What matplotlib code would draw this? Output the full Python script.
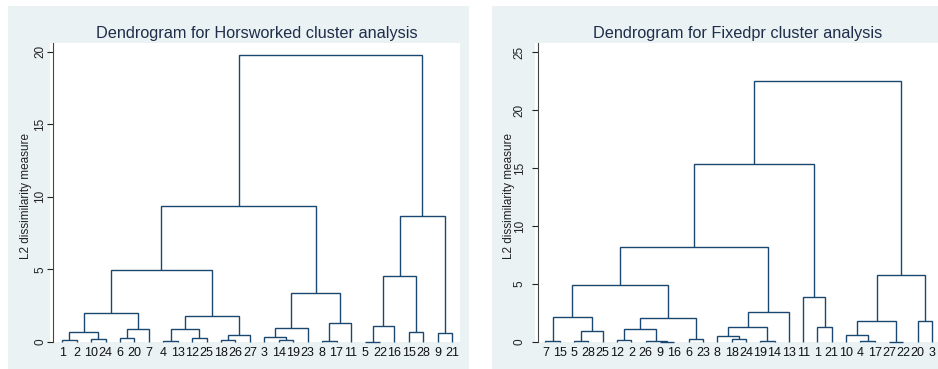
import matplotlib
matplotlib.use("Agg")
import matplotlib.pyplot as plt
from matplotlib.patches import Rectangle

plt.rcParams['font.family'] = ['Liberation Sans', 'DejaVu Sans']

# --- data: leaf order and merges (a, b, height); "mN" = earlier merge N ---
hw_leaves = [1, 2, 10, 24, 6, 20, 7, 4, 13, 12, 25, 18, 26, 27,
             3, 14, 19, 23, 8, 17, 11, 5, 22, 16, 15, 28, 9, 21]
hw_merges = [
    (1, 2, 0.14), (10, 24, 0.19), ("m0", "m1", 0.67),
    (6, 20, 0.26), ("m3", 7, 0.92), ("m2", "m4", 2.02),
    (4, 13, 0.09), (12, 25, 0.25), ("m6", "m7", 0.92),
    (18, 26, 0.14), ("m9", 27, 0.47), ("m8", "m10", 1.82),
    ("m5", "m11", 4.95),
    (14, 19, 0.14), (3, "m13", 0.32), ("m14", 23, 0.97),
    (8, 17, 0.09), ("m16", 11, 1.29), ("m15", "m17", 3.38),
    ("m12", "m18", 9.35),
    (5, 22, 0.03), ("m20", 16, 1.12), (15, 28, 0.71), ("m21", "m22", 4.57),
    (9, 21, 0.64), ("m23", "m24", 8.65),
    ("m19", "m25", 19.8),
]

fp_leaves = [7, 15, 5, 28, 25, 12, 2, 26, 9, 16, 6, 23, 8, 18,
             24, 19, 14, 13, 11, 1, 21, 10, 4, 17, 27, 22, 20, 3]
fp_merges = [
    (7, 15, 0.05), (5, 28, 0.10), ("m1", 25, 0.97), ("m0", "m2", 2.2),
    (12, 2, 0.17), (9, 16, 0.04), (26, "m5", 0.12), ("m4", "m6", 1.09),
    (6, 23, 0.29), ("m7", "m8", 2.1), ("m3", "m9", 4.89),
    (18, 24, 0.28), (8, "m11", 0.54), (19, 14, 0.11), ("m12", "m13", 1.32),
    ("m14", 13, 2.56), ("m10", "m15", 8.2),
    (1, 21, 1.32), (11, "m17", 3.85), ("m16", "m18", 15.35),
    (4, 17, 0.11), (10, "m20", 0.6), (27, 22, 0.03), ("m21", "m22", 1.84),
    (20, 3, 1.78), ("m23", "m24", 5.75),
    ("m19", "m25", 22.5),
]

BG = '#eaf2f3'
LINE = '#1a476f'
TITLE_C = '#1e2d4a'
W, H = 938, 369


def draw_dendro(ax, leaves, merges):
    pos = {lab: i + 1 for i, lab in enumerate(leaves)}
    nodes = {}

    def get(ref):
        if isinstance(ref, str):
            return nodes[ref]
        return pos[ref], 0.0

    for k, (a, b, h) in enumerate(merges):
        xa, ha = get(a)
        xb, hb = get(b)
        ax.plot([xa, xa, xb, xb], [ha, h, h, hb], color=LINE, lw=1.0,
                solid_joinstyle='miter', solid_capstyle='butt', clip_on=False)
        nodes["m%d" % k] = ((xa + xb) / 2, h)

    ax.set_xticks(range(1, len(leaves) + 1))
    ax.set_xticklabels([str(v) for v in leaves], fontsize=9)
    ax.tick_params(axis='x', length=0, pad=3.5, colors='#111111')


fig = plt.figure(figsize=(W / 100, H / 100), dpi=100)
fig.patch.set_facecolor('white')

# panel backgrounds (pixel boxes: left, right)
for x0, x1 in [(8, 469), (492, 938)]:
    fig.patches.append(Rectangle((x0 / W, 0), (x1 - x0) / W, (H - 6) / H,
                                 transform=fig.transFigure, facecolor=BG,
                                 edgecolor='none', zorder=-5))
# white plot regions
for x0, x1 in [(50, 460), (535, 938)]:
    fig.patches.append(Rectangle((x0 / W, (H - 342) / H), (x1 - x0) / W,
                                 (342 - 43) / H, transform=fig.transFigure,
                                 facecolor='white', edgecolor='none',
                                 zorder=-4))

# axis px, right px, leaves, merges, ytop, xlim, yticks, title, ylabel x, tick pad
panels = [
    (53, 460, hw_leaves, hw_merges, 20.6, (0.36, 28.55), [0, 5, 10, 15, 20],
     "Dendrogram for Horsworked cluster analysis", 26, 0.6),
    (538, 938, fp_leaves, fp_merges, 25.8, (0.48, 28.42), [0, 5, 10, 15, 20, 25],
     "Dendrogram for Fixedpr cluster analysis", 509, 4.6),
]

for x0, x1, leaves, merges, ytop, xl, yt, title, ylab_x, tpad in panels:
    ax = fig.add_axes([x0 / W, (H - 342) / H, (x1 - x0) / W, (342 - 43) / H])
    ax.set_zorder(2)
    ax.set_facecolor('white')
    draw_dendro(ax, leaves, merges)
    ax.set_xlim(*xl)
    ax.set_ylim(0, ytop)
    ax.set_yticks(yt)
    ax.set_yticklabels([str(v) for v in yt], rotation=90, va='center',
                       fontsize=8.5)
    ax.tick_params(axis='y', length=4.2, width=0.8, pad=tpad, colors='#222222',
                   direction='out')
    for s in ['top', 'right', 'bottom']:
        ax.spines[s].set_visible(False)
    ax.spines['left'].set_color('#444444')
    ax.spines['left'].set_linewidth(0.8)
    ax.set_title(title, fontsize=11.7, color=TITLE_C, pad=3.5)
    fig.text(ylab_x / W, (H - 196) / H, "L2 dissimilarity measure",
             rotation=90, ha='center', va='center', fontsize=8.5,
             color='#222222', zorder=3)

fig.savefig("out.png", dpi=100, facecolor=fig.get_facecolor())
